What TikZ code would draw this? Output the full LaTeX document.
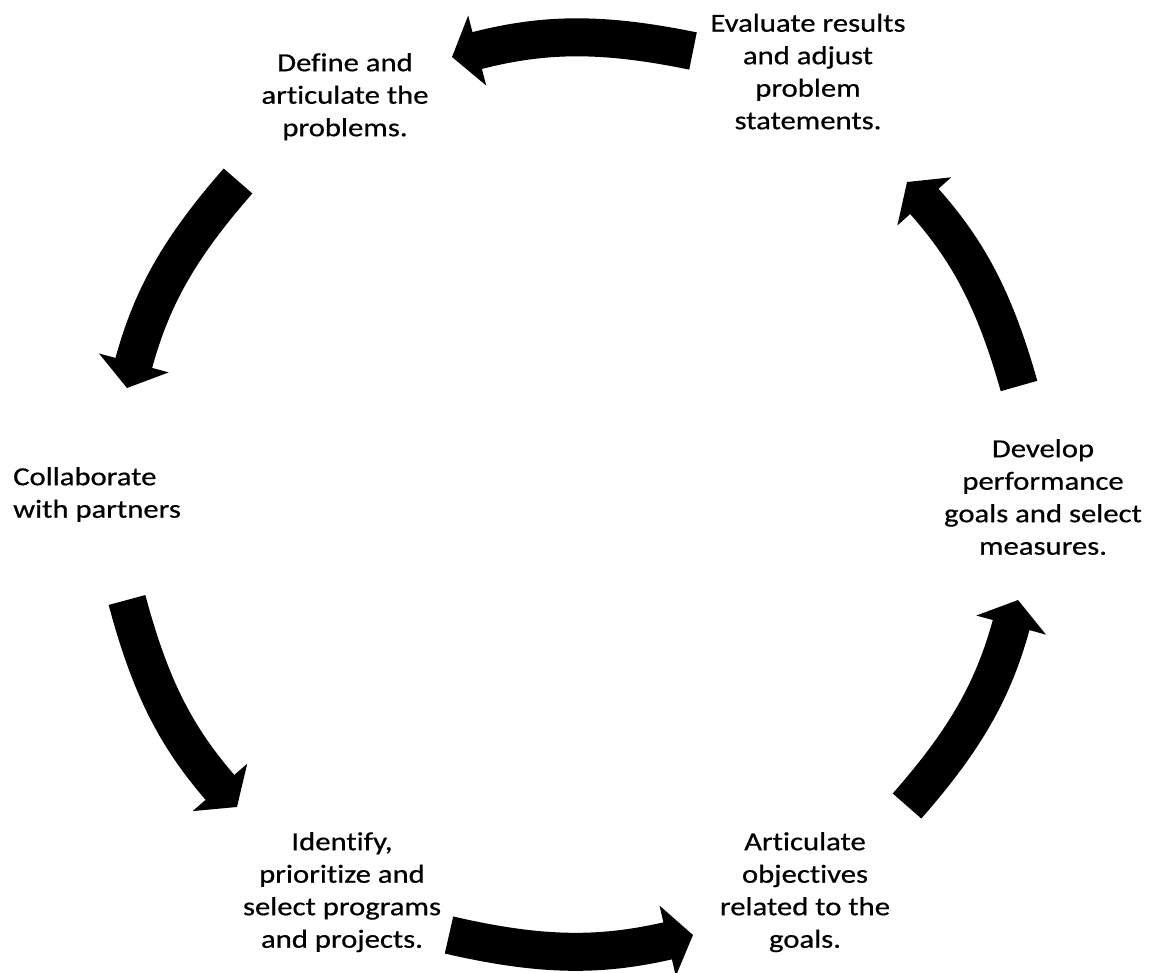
\documentclass[tikz,border=0pt]{standalone}
\usepackage{fontspec}
\setmainfont{Carlito}[FakeStretch=1.18,FakeBold=0.6,Ligatures=NoCommon]
\usetikzlibrary{arrows.meta,calc,positioning}

\begin{document}
\begin{tikzpicture}[x=1pt,y=1pt,
		lbl/.style={inner sep=0pt,anchor=north,align=center,font=\fontsize{26}{32.5}\selectfont},
		cyc/.style={line width=38pt,-{Triangle[length=26pt,width=71pt]}}]
		\useasboundingbox (0,0) rectangle (1151,-973);
		% steps
		\node[lbl] (def) at (345,-48.25) {\strut Define and\\articulate the\\problems.};
		\node[lbl] (eval) at (808,-8.75) {\strut Evaluate results\\and adjust\\problem\\statements.};
		\node[lbl,anchor=north west,align=left] (col) at (13,-462.25) {\strut Collaborate\\with partners};
		\node[lbl] (dev) at (1043,-434.25) {\strut Develop\\performance\\goals and select\\measures.};
		\node[lbl] (idf) at (342,-827.25) {\strut Identify,\\prioritize and\\select programs\\and projects.};
		\node[lbl] (art) at (805,-827.25) {\strut Articulate\\objectives\\related to the\\goals.};
		% arrow ends
		\coordinate (t1) at (693,-51);
		\coordinate (h1) at (452,-57);
		\coordinate (t2) at (238,-181);
		\coordinate (h2) at (127,-388);
		\coordinate (t3) at (127,-600);
		\coordinate (h3) at (237,-807);
		\coordinate (t4) at (449,-935);
		\coordinate (h4) at (693,-935);
		\coordinate (t5) at (907,-806);
		\coordinate (h5) at (1018,-600);
		\coordinate (t6) at (1019,-386);
		\coordinate (h6) at (907,-182);
		\draw[cyc] (t1) to[bend right=13] (h1);
		\draw[cyc] (t2) to[bend right=13] (h2);
		\draw[cyc] (t3) to[bend right=13] (h3);
		\draw[cyc] (t4) to[bend right=13] (h4);
		\draw[cyc] (t5) to[bend right=13] (h5);
		\draw[cyc] (t6) to[bend right=13] (h6);
\end{tikzpicture}
\end{document}
